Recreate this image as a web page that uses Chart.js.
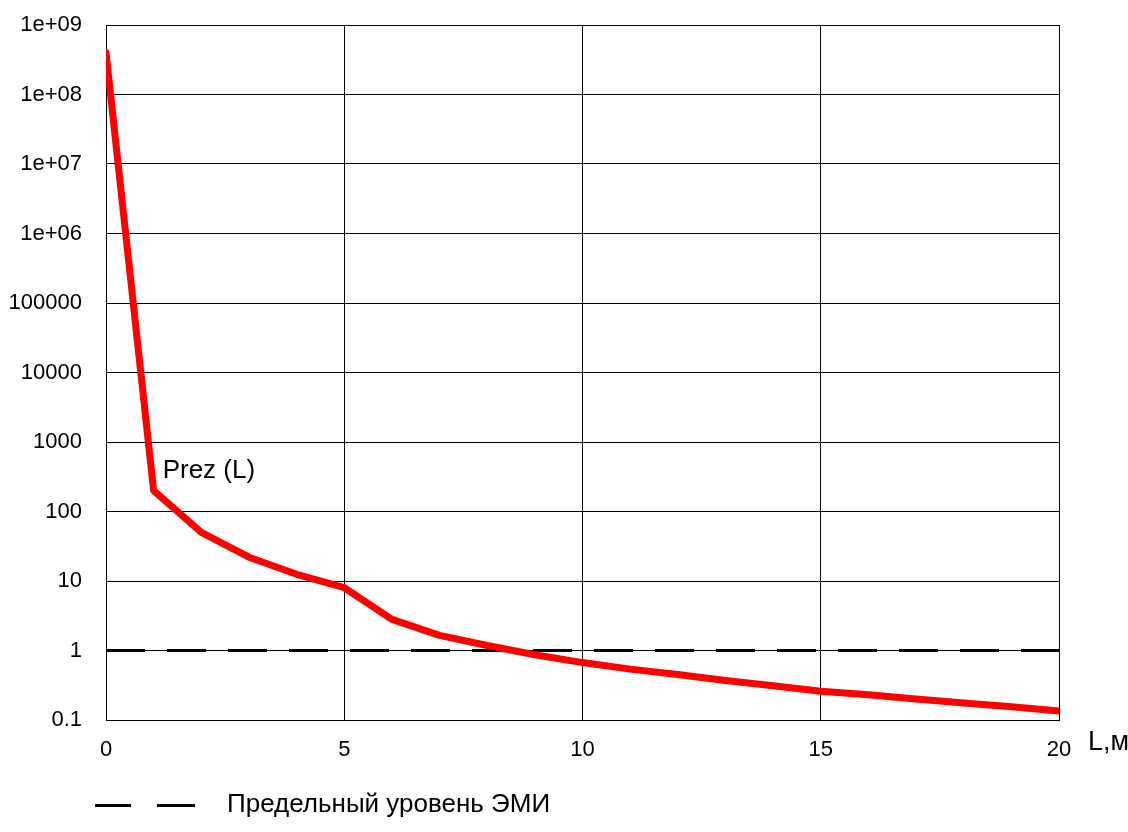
<!DOCTYPE html>
<html>
<head>
<meta charset="utf-8">
<title>Prez (L)</title>
<script src="https://cdn.jsdelivr.net/npm/chart.js@4.4.0/dist/chart.umd.min.js"></script>
<style>
  html, body { margin: 0; padding: 0; background: #fff; }
  canvas { display: block; }
</style>
</head>
<body>
<canvas id="chart" width="1128" height="832"></canvas>
<script>
// Distance L, m
const distances = [0, 1, 2, 3, 4, 5, 6, 7, 8, 9, 10, 11, 12, 13, 14, 15, 16, 17, 18, 19, 20];
// Prez(L)
const prezValues = [4e8, 200, 50, 22, 12.5, 8, 2.8, 1.65, 1.18, 0.87, 0.67, 0.54, 0.45, 0.37, 0.31, 0.26, 0.23, 0.2, 0.175, 0.155, 0.135];
// Limit EMI level
const limitX = [0, 20];
const limitY = [1, 1];

const yTicks = [0.1, 1, 10, 100, 1000, 10000, 100000, 1e6, 1e7, 1e8, 1e9];
const yTickLabels = ["0.1", "1", "10", "100", "1000", "10000", "100000", "1e+06", "1e+07", "1e+08", "1e+09"];
const xTicks = [0, 5, 10, 15, 20];

const seriesLabel = "Prez (L)";
const limitLabel = "Предельный уровень ЭМИ";
const xAxisLabel = "L,м";

const FONT = "'Liberation Sans', Arial, sans-serif";

// draws the curve label, axis name and the legend
const annotations = {
  id: "annotations",
  afterDraw(chart) {
    const ctx = chart.ctx;
    const xs = chart.scales.x;
    const ys = chart.scales.y;
    const area = chart.chartArea;
    ctx.save();
    ctx.fillStyle = "#000";
    ctx.textBaseline = "middle";
    ctx.textAlign = "left";

    ctx.font = "26px " + FONT;
    ctx.fillText(seriesLabel, xs.getPixelForValue(distances[1]) + 9, ys.getPixelForValue(prezValues[1]) - 20);

    ctx.font = "27px " + FONT;
    ctx.fillText(xAxisLabel, area.right + 29, area.bottom + 23);

    // legend
    ctx.strokeStyle = "#000";
    ctx.lineWidth = 3;
    ctx.beginPath();
    ctx.moveTo(95, 805.5); ctx.lineTo(131, 805.5);
    ctx.moveTo(157, 805.5); ctx.lineTo(195, 805.5);
    ctx.stroke();
    ctx.font = "26px " + FONT;
    ctx.fillText(limitLabel, 227, 805);
    ctx.restore();
  }
};

new Chart(document.getElementById("chart"), {
  type: "line",
  data: {
    datasets: [
      {
        label: seriesLabel,
        data: distances.map((x, i) => ({ x: x, y: prezValues[i] })),
        borderColor: "#ff0000",
        borderWidth: 7,
        pointRadius: 0,
        tension: 0,
        borderCapStyle: "round",
        borderJoinStyle: "round"
      },
      {
        label: limitLabel,
        data: limitX.map((x, i) => ({ x: x, y: limitY[i] })),
        borderColor: "#000",
        borderWidth: 3,
        borderDash: [39, 22],
        pointRadius: 0
      }
    ]
  },
  options: {
    responsive: false,
    animation: false,
    layout: { padding: { top: 25, right: 69, bottom: 0, left: 0 } },
    plugins: {
      legend: { display: false },
      tooltip: { enabled: false }
    },
    scales: {
      x: {
        type: "linear",
        min: 0,
        max: 20,
        afterBuildTicks: (scale) => { scale.ticks = xTicks.map(v => ({ value: v })); },
        afterFit: (scale) => { scale.height = 112; },
        grid: { color: "#000", lineWidth: 1, drawTicks: false },
        border: { color: "#000" },
        ticks: { color: "#000", padding: 17, font: { family: FONT, size: 22 } }
      },
      y: {
        type: "logarithmic",
        min: 0.1,
        max: 1e9,
        afterBuildTicks: (scale) => { scale.ticks = yTicks.map(v => ({ value: v })); },
        afterFit: (scale) => {
          scale.width = 106;
          scale.paddingTop = 0;
          scale.paddingBottom = 0;
        },
        grid: { color: "#000", lineWidth: 1, drawTicks: false },
        border: { color: "#000" },
        ticks: {
          color: "#000",
          padding: 24,
          font: { family: FONT, size: 22 },
          callback: (value) => {
            const i = yTicks.findIndex(t => Math.abs(t - value) / t < 1e-6);
            return i >= 0 ? yTickLabels[i] : "";
          }
        }
      }
    }
  },
  plugins: [annotations]
});
</script>
</body>
</html>
